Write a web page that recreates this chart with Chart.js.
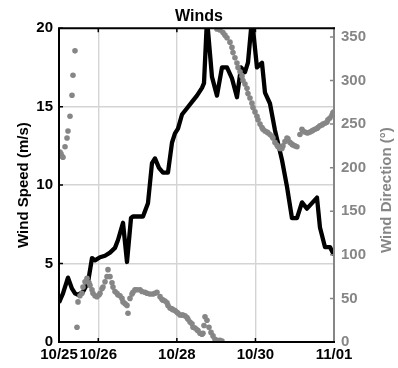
<!DOCTYPE html>
<html>
<head>
<meta charset="utf-8">
<script src="https://cdn.jsdelivr.net/npm/chart.js@4/dist/chart.umd.min.js"></script>
<style>
  html, body { margin: 0; padding: 0; background: #fff; }
  canvas { display: block; }
</style>
</head>
<body>
<canvas id="winds" width="398" height="368"></canvas>
<script>
// Time axis: days since 10/25 00:00
const tickDays = [0, 1, 3, 5, 7];
const tickLabels = ['10/25', '10/26', '10/28', '10/30', '11/01'];
const speedTicks = [0, 5, 10, 15, 20];
const directionTicks = [0, 50, 100, 150, 200, 250, 300, 350];

// Wind speed (m/s)
const speedDays = [0.000, 0.102, 0.229, 0.331, 0.407, 0.484, 0.611, 0.738, 0.840, 0.916,
  1.044, 1.171, 1.298, 1.425, 1.502, 1.629, 1.731, 1.833, 1.883, 2.011,
  2.138, 2.265, 2.367, 2.443, 2.545, 2.647, 2.774, 2.876, 2.952, 3.029,
  3.131, 3.258, 3.385, 3.512, 3.640, 3.691, 3.767, 3.894, 4.021, 4.149,
  4.276, 4.403, 4.530, 4.632, 4.734, 4.810, 4.912, 5.039, 5.167, 5.243,
  5.370, 5.497, 5.676, 5.803, 5.930, 6.057, 6.185, 6.312, 6.439, 6.567,
  6.643, 6.770, 6.897, 6.999];
const speedValues = [2.5, 3.1, 4.1, 3.4, 3.1, 3.0, 3.2, 3.8, 5.35, 5.2,
  5.4, 5.5, 5.7, 6.0, 6.5, 7.6, 5.1, 7.9, 8.0, 8.0,
  8.0, 8.85, 11.4, 11.7, 11.1, 10.8, 10.8, 12.7, 13.3, 13.6,
  14.5, 14.9, 15.3, 15.7, 16.2, 16.5, 20.6, 16.9, 15.7, 17.5,
  17.5, 16.8, 15.6, 17.5, 17.2, 17.8, 20.6, 17.5, 17.8, 15.9,
  15.2, 13.5, 11.6, 9.9, 7.9, 7.9, 8.9, 8.5, 8.85, 9.2,
  7.3, 6.05, 6.05, 5.55];

// Wind direction (degrees), hourly-ish readings
const directionDays = [0.025, 0.051, 0.076, 0.102, 0.153, 0.204, 0.229, 0.280, 0.331, 0.356,
  0.407, 0.458, 0.484, 0.534, 0.585, 0.611, 0.662, 0.713, 0.764, 0.789,
  0.840, 0.865, 0.916, 0.967, 1.018, 1.044, 1.094, 1.120, 1.171, 1.222,
  1.247, 1.298, 1.349, 1.374, 1.425, 1.476, 1.502, 1.553, 1.603, 1.629,
  1.680, 1.731, 1.756, 1.807, 1.858, 1.883, 1.934, 1.985, 2.062, 2.112,
  2.189, 2.240, 2.316, 2.392, 2.443, 2.494, 2.571, 2.621, 2.647, 2.698,
  2.749, 2.774, 2.825, 2.876, 2.902, 2.952, 3.003, 3.029, 3.080, 3.131,
  3.156, 3.207, 3.258, 3.283, 3.334, 3.385, 3.411, 3.462, 3.512, 3.538,
  3.589, 3.640, 3.665, 3.691, 3.716, 3.767, 3.818, 3.869, 3.920, 3.970,
  4.021, 4.098, 4.149,
  4.021, 4.098, 4.174, 4.225, 4.276, 4.352, 4.403, 4.429, 4.479, 4.530,
  4.556, 4.607, 4.658, 4.683, 4.734, 4.785, 4.810, 4.861, 4.912, 4.938,
  4.989, 5.039, 5.065, 5.116, 5.167, 5.192, 5.243, 5.294, 5.319, 5.370,
  5.421, 5.446, 5.497, 5.548, 5.574, 5.624, 5.675, 5.701, 5.752, 5.803,
  5.828, 5.879, 5.930, 5.955, 6.006, 6.057, 6.133, 6.184, 6.209, 6.260,
  6.311, 6.336, 6.387, 6.438, 6.463, 6.514, 6.565, 6.590, 6.641, 6.692,
  6.718, 6.769, 6.820, 6.845, 6.896, 6.947, 6.972, 6.998];
const directionDegrees = [218, 216, 213, 212, 224, 234, 242, 259, 283, 306,
  334, 17, 46, 53, 56, 63, 69, 73, 68, 65,
  60, 56, 53, 52, 54, 56, 61, 63, 69, 75,
  83, 75, 68, 63, 58, 56, 54, 53, 50, 46,
  44, 42, 33, 50, 55, 57, 60, 60, 60, 58,
  57, 56, 55, 55, 56, 57, 52, 49, 48, 47,
  45, 42, 39, 38, 37, 36, 34, 33, 31, 31,
  31, 30, 28, 26, 23, 21, 17, 16, 14, 13,
  10, 9, 10, 19, 29, 25, 17, 11, 7, 3,
  2, 2, 1,
  359, 358, 355, 352, 349, 344, 338, 332, 326, 320,
  315, 310, 305, 300, 296, 291, 285, 280, 274, 269,
  264, 259, 255, 250, 246, 244, 242, 241, 240, 238,
  236, 234, 229, 226, 224, 222, 222, 225, 230, 234,
  233, 229, 227, 226, 225, 224, 238, 244, 242, 241,
  240, 240, 241, 242, 243, 244, 245, 246, 248, 249,
  250, 251, 252, 255, 257, 260, 263, 264];

const GRAY = '#868686';
const GRID = '#d4d4d4';
Chart.defaults.font.family = "'Liberation Sans', Arial, Helvetica, sans-serif";

const speedPoints = speedDays.map((d, i) => ({ x: d, y: speedValues[i] }));
const directionPoints = directionDays.map((d, i) => ({ x: d, y: directionDegrees[i] }));

function fixedTicks(values) {
  return scale => { scale.ticks = values.map(v => ({ value: v })); };
}
function edgeless(min, max) {
  return ctx => (ctx.tick && (ctx.tick.value === min || ctx.tick.value === max)) ? 'rgba(0,0,0,0)' : GRID;
}

// Box outline with inward tick marks on every side, plus the right-hand axis title
const framePlugin = {
  id: 'frame',
  afterDatasetsDraw(chart) {
    const { ctx, chartArea: { left, right, top, bottom }, scales: { x, y, y1 } } = chart;
    const len = 4;
    ctx.save();
    ctx.lineWidth = 1.5;
    ctx.strokeStyle = '#000';
    ctx.beginPath();
    x.ticks.forEach(t => {
      const px = x.getPixelForValue(t.value);
      ctx.moveTo(px, bottom); ctx.lineTo(px, bottom - len);
      ctx.moveTo(px, top); ctx.lineTo(px, top + len);
    });
    y.ticks.forEach(t => {
      const py = y.getPixelForValue(t.value);
      ctx.moveTo(left, py); ctx.lineTo(left + len, py);
    });
    ctx.stroke();
    ctx.strokeStyle = GRAY;
    ctx.beginPath();
    y1.ticks.forEach(t => {
      const py = y1.getPixelForValue(t.value);
      ctx.moveTo(right, py); ctx.lineTo(right - len, py);
    });
    ctx.stroke();

    ctx.lineWidth = 2;
    ctx.lineCap = 'square';
    ctx.strokeStyle = GRAY;
    ctx.beginPath();
    ctx.moveTo(right, top); ctx.lineTo(right, bottom);
    ctx.stroke();
    ctx.strokeStyle = '#000';
    ctx.beginPath();
    ctx.moveTo(right, top); ctx.lineTo(left, top); ctx.lineTo(left, bottom); ctx.lineTo(right, bottom);
    ctx.stroke();
    ctx.restore();
  },
  afterDraw(chart) {
    const { ctx } = chart;
    ctx.save();
    ctx.translate(387, 253);
    ctx.rotate(-Math.PI / 2);
    ctx.fillStyle = GRAY;
    ctx.font = "bold 15px 'Liberation Sans', Arial, sans-serif";
    ctx.textAlign = 'left';
    ctx.textBaseline = 'middle';
    ctx.fillText('Wind Direction (°)', 0, 0);
    ctx.restore();
  }
};

new Chart(document.getElementById('winds'), {
  type: 'line',
  data: {
    datasets: [
      {
        label: 'Wind Direction',
        data: directionPoints,
        yAxisID: 'y1',
        showLine: false,
        pointRadius: 2.8,
        pointBorderWidth: 0,
        pointBackgroundColor: GRAY,
        borderColor: GRAY,
        order: 0
      },
      {
        label: 'Wind Speed',
        data: speedPoints,
        yAxisID: 'y',
        borderColor: '#000',
        borderWidth: 4.3,
        borderJoinStyle: 'round',
        tension: 0,
        pointRadius: 0,
        clip: 0,
        order: 1
      }
    ]
  },
  options: {
    responsive: false,
    animation: false,
    devicePixelRatio: 1,
    layout: { padding: 0 },
    plugins: {
      legend: { display: false },
      tooltip: { enabled: false },
      title: {
        display: true,
        text: 'Winds',
        color: '#000',
        font: { size: 16, weight: 'bold' },
        padding: { top: 7, bottom: 2 }
      }
    },
    scales: {
      x: {
        type: 'linear',
        min: 0,
        max: 7,
        afterBuildTicks: fixedTicks(tickDays),
        afterFit: s => { s.height = 26; },
        ticks: {
          autoSkip: false,
          maxRotation: 0,
          padding: 4,
          color: '#000',
          font: { size: 15, weight: 'bold' },
          callback: (v) => tickLabels[tickDays.indexOf(v)]
        },
        grid: { color: edgeless(0, 7), lineWidth: 1.4, drawTicks: false },
        border: { display: false }
      },
      y: {
        position: 'left',
        min: 0,
        max: 20,
        afterBuildTicks: fixedTicks(speedTicks),
        afterFit: s => { s.width = 59; },
        ticks: { padding: 6, color: '#000', font: { size: 15, weight: 'bold' } },
        grid: { color: edgeless(0, 20), lineWidth: 1.4, drawTicks: false },
        border: { display: false },
        title: {
          display: true,
          text: 'Wind Speed (m/s)',
          color: '#000',
          font: { size: 15, weight: 'bold' },
          padding: { top: 15, bottom: 0 }
        }
      },
      y1: {
        position: 'right',
        min: 0,
        max: 360,
        afterBuildTicks: fixedTicks(directionTicks),
        afterFit: s => { s.width = 64; },
        ticks: { padding: 7, color: GRAY, font: { size: 15, weight: 'bold' } },
        grid: { display: false, drawTicks: false },
        border: { display: false }
      }
    }
  },
  plugins: [framePlugin]
});
</script>
</body>
</html>
